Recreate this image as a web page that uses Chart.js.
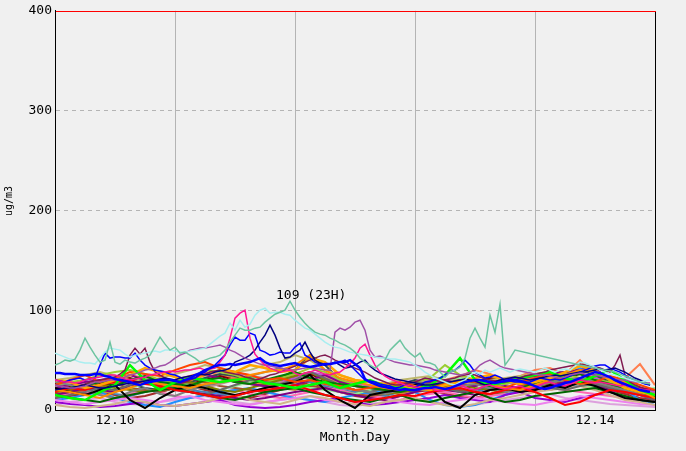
<!DOCTYPE html>
<html>
<head>
<meta charset="utf-8">
<script src="https://cdn.jsdelivr.net/npm/chart.js@4.4.1/dist/chart.umd.min.js"></script>
<style>
  body { margin: 0; background: #f0f0f0; overflow: hidden; }
  canvas { display: block; }
</style>
</head>
<body>
<canvas id="chart" width="686" height="451"></canvas>
<script>
// x axis is hours since 12.10 00H, one label per day at noon
const dayLabels = ["12.10", "12.11", "12.12", "12.13", "12.14"]
const yTicks = [0, 100, 200, 300, 400]

// hourly series (120 values, h0..h119)
const aquaValues = [
  45,47,50,49,51,60,72,63,55,48, 50,68,48,46,50,48,47,50,52,55,
  64,73,66,60,63,57,58,55,52,48, 50,52,53,55,60,68,75,82,80,80,
  82,83,88,92,96,98,100,109,100,93, 87,82,78,76,75,72,70,67,65,62,
  58,52,48,45,42,46,50,60,65,70, 62,57,53,57,48,47,45,38,33,38,
  40,43,52,72,82,72,63,95,78,106, 45,52,60,null,null,null,null,null,null,null,
  null,null,null,null,null,45,44,43,42,41, 40,39,38,36,34,32,30,28,27,26
]
const turquoiseValues = [
  57,55,53,51,50,48,47,47,46,52, 58,62,61,60,56,53,55,56,57,58,
  59,58,60,60,59,58,58,59,60,61, 62,66,70,74,77,87,80,90,83,86,
  95,100,102,97,98,98,96,95,90,86, 82,80,76,72,68,65,63,62,60,58,
  57,56,55,54,53,52,52,51,51,50, 49,48,45,42,38,35,32,30,28,26,
  25,28,30,35,38,36,40,38,40,42, 40,38,40,41,40,39,38,40,42,40,
  38,40,41,40,44,48,47,45,43,40, 38,36,35,33,32,30,29,28,29,30
]
const pinkValues = [
  30,29,28,28,27,28,30,31,32,33, 34,35,35,33,31,30,31,32,33,35,
  36,37,38,39,38,39,40,40,41,42, 40,41,42,48,55,72,92,97,100,72,
  56,50,45,42,40,38,39,40,37,35, 37,38,40,38,36,35,37,38,42,46,
  52,62,66,55,45,38,34,31,29,27, 25,24,23,22,21,22,20,19,20,22,
  24,25,23,21,20,22,24,25,23,22, 21,22,23,24,22,21,23,25,27,28,
  26,25,24,26,28,30,29,28,27,28, 27,26,25,24,25,23,22,21,20,20
]
const purpleValues = [
  25,24,23,22,22,23,24,26,28,28, 29,30,30,31,33,35,36,38,40,41,
  42,44,45,48,52,55,57,60,61,62, 62,63,64,65,63,60,58,55,52,50,
  48,46,45,44,43,42,41,40,40,41, 42,43,42,41,40,40,78,82,80,83,
  88,90,80,60,53,54,52,50,48,47, 46,45,45,44,43,42,40,39,38,37,
  36,35,36,38,40,45,48,50,47,44, 42,41,40,39,38,37,36,35,35,34,
  33,32,33,35,36,37,36,35,35,34, 33,32,31,30,30,29,28,28,27,27
]
const navyValues = [
  20,21,22,22,23,24,25,24,23,22, 22,23,24,25,26,27,28,28,29,30,
  30,31,32,31,30,32,33,34,35,36, 35,36,38,39,40,42,48,50,52,55,
  60,68,75,85,75,62,52,53,57,60, 68,58,50,47,45,46,48,45,42,43,
  45,48,50,44,40,37,35,33,31,30, 29,28,27,26,25,25,26,27,28,28,
  29,30,31,30,29,27,25,26,28,30, 31,32,33,32,31,30,31,32,33,34,
  35,34,35,36,37,38,38,39,40,41, 40,41,42,40,38,35,32,30,28,25
]
const blueThickValues = [
  37,37,36,36,36,35,35,35,36,36, 34,33,31,30,29,28,26,25,27,28,
  29,30,30,30,29,28,30,32,35,37, 40,42,44,45,45,46,45,46,47,48,
  50,52,48,46,45,44,45,46,47,45, 44,43,44,45,46,46,47,48,48,50,
  46,42,31,28,26,24,23,22,21,20, 21,20,20,21,22,22,23,22,21,22,
  24,26,28,29,30,30,29,28,27,28, 29,30,30,29,28,26,24,22,21,22,
  24,25,27,28,30,32,34,36,38,37, 35,33,30,28,26,24,22,20,19,18
]
const blueValues = [
  30,29,28,30,31,32,30,31,32,45, 57,52,53,53,52,52,57,50,45,42,
  40,39,38,36,35,33,30,31,32,36, 38,42,45,50,55,65,73,70,70,77,
  75,60,58,55,56,58,57,57,63,67, 55,52,48,46,45,46,47,48,50,45,
  40,35,30,29,28,26,25,24,22,23, 25,24,23,25,28,29,30,32,35,38,
  40,44,50,45,38,35,32,33,35,33, 30,29,28,28,27,28,30,32,31,30,
  31,30,32,34,36,38,40,42,44,45, 45,42,40,38,35,32,30,28,26,25
]
const maroonValues = [
  25,24,23,22,22,24,26,28,29,30, 31,32,33,36,40,55,62,56,62,48,
  38,35,32,30,29,28,28,30,32,35, 36,38,39,40,38,37,36,35,33,32,
  30,31,33,35,36,38,40,42,44,46, 48,50,52,54,55,53,50,48,46,44,
  42,40,38,35,32,30,28,26,25,25, 26,27,28,30,32,31,30,29,30,31,
  32,34,35,36,35,33,31,30,29,28, 28,29,30,32,34,35,36,37,38,40,
  41,42,43,44,45,46,45,44,43,42, 40,38,45,55,35,28,25,23,21,20
]

// 3-hourly series (41 values, h0..h120)
const limeValues = [15,12,10,18,25,45,30,20,28,32,30,28,30,32,27,25,22,25,28,22,26,30,24,22,20,25,35,52,30,25,28,32,35,38,32,28,34,40,30,20,15]
const orangeValues = [30,28,22,25,30,35,42,38,33,30,35,40,38,45,42,38,40,52,48,35,30,28,26,24,22,20,25,28,32,35,30,26,28,32,38,44,40,30,22,18,15]
const darkOrangeValues = [20,18,15,12,18,22,28,26,24,22,26,28,30,35,38,40,45,55,40,32,28,25,22,20,24,20,22,26,30,25,22,20,25,30,35,40,38,32,28,20,12]
const redValues = [18,22,20,25,28,30,26,24,20,18,15,12,14,18,20,22,25,20,15,12,8,10,12,15,14,18,20,22,18,16,20,22,18,12,5,8,15,20,18,15,12]
const orangeRedValues = [25,30,35,28,32,38,36,34,40,45,48,42,38,35,30,32,28,30,26,24,20,22,25,28,24,22,26,30,28,25,22,28,32,36,30,26,28,34,30,25,20]
const blackValues = [22,18,15,20,25,10,2,12,20,25,22,18,15,18,22,25,28,35,20,10,2,15,18,20,25,22,8,2,15,20,22,18,20,25,22,28,24,18,12,10,8]
const darkGreenValues = [15,12,10,8,12,15,18,20,22,18,15,12,10,14,18,20,22,18,15,12,10,8,12,15,10,8,12,15,18,12,8,10,14,16,18,20,22,18,14,10,8]
const greenValues = [20,22,25,28,24,30,34,28,26,24,30,32,28,26,30,34,38,32,28,26,24,22,20,18,22,24,26,30,28,24,20,22,26,30,34,36,30,26,22,18,14]
const grayValues = [28,25,20,15,12,18,22,16,14,20,24,28,30,34,38,42,38,30,26,22,20,18,16,20,22,18,20,24,26,22,18,20,24,28,30,32,28,24,20,16,12]
const dimGrayValues = [12,15,18,22,20,25,30,28,22,18,15,20,25,30,28,26,30,38,32,25,20,18,22,25,28,26,22,18,20,24,28,30,26,22,20,24,26,22,18,15,10]
const tanValues = [5,3,2,4,6,10,8,5,4,6,8,12,15,10,8,6,10,14,12,8,6,4,8,10,12,8,5,3,6,10,12,15,18,20,22,24,20,15,10,8,5]
const violetValues = [10,8,6,8,10,12,10,8,12,14,10,8,6,5,8,10,12,14,10,8,6,10,12,8,6,5,8,10,12,10,8,6,5,8,10,14,12,10,8,6,5]
const darkVioletValues = [8,6,5,3,4,6,8,5,4,6,8,10,5,3,2,3,5,8,10,12,8,5,6,8,10,12,15,12,10,8,15,18,12,10,8,12,15,18,20,15,10]
const purpleBgValues = [15,18,22,20,18,25,28,24,20,18,16,14,12,10,12,15,18,20,22,18,15,12,10,14,18,22,20,18,15,20,24,22,20,24,28,30,25,20,18,15,12]
const darkMagentaValues = [22,25,28,30,32,35,30,28,25,30,35,32,28,26,24,22,25,30,35,28,24,22,20,22,25,28,30,26,24,28,30,32,34,36,38,40,42,30,25,22,20]
const oliveValues = [18,20,22,25,22,20,18,22,26,28,24,20,18,22,26,30,34,38,30,24,20,18,16,18,20,22,24,26,22,20,18,22,26,28,30,32,28,24,20,18,15]
const yellowGreenValues = [25,28,30,35,38,40,36,30,28,32,40,38,35,30,28,32,36,42,38,30,25,22,20,24,28,32,45,35,30,28,26,30,34,38,36,32,30,28,25,22,20]
const lightGreenValues = [20,22,24,20,18,22,26,30,28,25,22,20,24,28,30,26,24,22,20,18,16,20,22,24,26,28,30,32,28,24,22,20,24,28,30,26,22,20,18,20,22]
const khakiValues = [30,32,35,38,34,30,28,32,36,40,45,42,38,40,45,48,55,50,40,35,30,28,26,30,32,34,30,28,26,30,32,34,36,38,34,30,28,26,24,22,20]
const rosyBrownValues = [24,26,22,20,24,28,32,30,26,24,22,26,30,34,32,28,26,30,34,28,24,22,20,24,28,30,26,22,20,24,26,28,30,32,28,26,24,22,20,18,16]
const siennaValues = [16,18,20,24,26,22,20,18,22,26,28,24,22,20,18,22,26,24,22,18,16,14,16,18,20,22,24,20,18,16,18,22,24,26,28,30,26,22,18,16,14]
const slateValues = [20,22,25,28,30,26,22,20,24,28,32,36,34,30,28,32,40,55,45,30,24,22,20,25,30,26,22,20,24,28,30,32,34,36,38,40,35,28,22,18,16]
const dodgerValues = [10,12,15,18,12,8,5,3,8,12,15,18,20,22,18,15,12,10,8,12,15,18,20,22,18,10,5,3,5,10,15,20,25,30,35,42,38,30,20,10,5]
const hotPinkValues = [14,16,18,15,12,16,20,18,14,12,15,18,20,16,14,12,15,18,22,20,16,14,12,10,14,16,18,15,12,14,16,18,20,22,20,18,16,14,12,10,8]
const plumValues = [5,8,10,12,8,6,5,8,10,12,14,10,8,6,8,10,12,10,8,5,4,6,8,10,12,8,6,4,5,8,10,12,14,16,12,10,8,6,5,4,3]
const orchidValues = [30,28,25,22,26,30,34,30,28,32,36,40,38,34,30,28,32,38,35,30,26,24,22,26,30,28,25,22,20,24,28,32,30,28,26,30,32,28,24,20,18]
const peruValues = [22,20,18,16,20,24,28,26,22,20,24,28,32,30,26,22,20,24,28,30,26,22,18,16,20,24,28,32,30,26,22,20,18,22,26,30,34,30,26,22,18]
const steelValues = [18,20,22,20,16,14,18,22,24,20,18,16,14,18,22,26,30,28,24,20,18,16,14,18,22,26,24,20,18,22,26,30,28,24,22,26,30,26,20,16,14]
const darkRedValues = [26,24,22,26,30,32,28,24,22,26,30,34,30,26,24,28,32,36,30,24,20,18,22,26,24,22,20,24,28,32,30,26,24,28,32,36,32,26,22,18,16]
const coralValues = [20,22,25,28,30,35,32,28,30,34,38,35,32,28,26,30,34,38,32,28,24,22,20,24,26,28,30,34,40,36,30,34,40,42,36,50,34,30,32,46,25]
const brownValues = [12,14,16,18,15,12,14,18,22,24,20,16,14,12,16,20,24,28,22,18,14,12,10,14,18,20,16,14,12,16,20,24,22,20,24,28,26,20,16,12,10]

function series(label, color, values, step, width) {
  return {
    label: label,
    data: values.map((v, i) => ({ x: i * step, y: v })),
    borderColor: color,
    borderWidth: width || 2,
    pointRadius: 0,
    tension: 0,
    spanGaps: true,
    fill: false
  }
}

// first dataset is drawn on top
const datasets = [
  series("blue2", "#0000ff", blueThickValues, 1, 2.5),
  series("aqua", "#6cc4a0", aquaValues, 1, 1.5),
  series("turquoise", "#a8eef0", turquoiseValues, 1, 1.5),
  series("pink", "#ff1493", pinkValues, 1, 1.5),
  series("purple", "#a050a8", purpleValues, 1, 1.5),
  series("navy", "#000080", navyValues, 1, 1.5),
  series("blue", "#0000ff", blueValues, 1, 1.5),
  series("maroon", "#801a50", maroonValues, 1, 1.5),
  series("lime", "#00ff00", limeValues, 3, 2.5),
  series("orange", "#ffa500", orangeValues, 3, 2.5),
  series("darkorange", "#ff8c00", darkOrangeValues, 3),
  series("red", "#ff0000", redValues, 3),
  series("orangered", "#ff4500", orangeRedValues, 3),
  series("black", "#000000", blackValues, 3),
  series("darkgreen", "#006400", darkGreenValues, 3),
  series("green", "#008000", greenValues, 3),
  series("gray", "#808080", grayValues, 3),
  series("dimgray", "#696969", dimGrayValues, 3),
  series("tan", "#d2b48c", tanValues, 3),
  series("violet", "#ee82ee", violetValues, 3),
  series("darkviolet", "#9400d3", darkVioletValues, 3),
  series("purple2", "#800080", purpleBgValues, 3),
  series("darkmagenta", "#8b008b", darkMagentaValues, 3),
  series("olive", "#808000", oliveValues, 3),
  series("yellowgreen", "#9acd32", yellowGreenValues, 3),
  series("lightgreen", "#90ee90", lightGreenValues, 3),
  series("khaki", "#bdb76b", khakiValues, 3),
  series("rosybrown", "#bc8f8f", rosyBrownValues, 3),
  series("sienna", "#a0522d", siennaValues, 3),
  series("slate", "#2f4f4f", slateValues, 3),
  series("dodger", "#1e90ff", dodgerValues, 3),
  series("hotpink", "#ff69b4", hotPinkValues, 3),
  series("plum", "#dda0dd", plumValues, 3),
  series("orchid", "#ba55d3", orchidValues, 3),
  series("peru", "#cd853f", peruValues, 3),
  series("steel", "#4682b4", steelValues, 3),
  series("darkred", "#800000", darkRedValues, 3),
  series("coral", "#ff7f50", coralValues, 3),
  series("brown", "#a52a2a", brownValues, 3)
]

const frame = {
  id: "frame",
  afterDraw(chart) {
    const { ctx, chartArea: a, scales } = chart
    const left = Math.round(a.left)
    const top = Math.round(a.top)
    const right = Math.round(a.right)
    const bottom = Math.round(a.bottom)
    ctx.save()
    ctx.fillStyle = "#000000"
    ctx.fillRect(right, top, 1, bottom - top + 1)
    ctx.fillStyle = "#ff0000"
    ctx.fillRect(left + 1, top, right - left, 1)

    // max label on the aqua series
    let peak = 0
    aquaValues.forEach((v, i) => { if (v !== null && v > aquaValues[peak]) peak = i })
    const px = scales.x.getPixelForValue(peak)
    const py = scales.y.getPixelForValue(aquaValues[peak])
    ctx.fillStyle = "#000000"
    ctx.font = "13px 'DejaVu Sans Mono'"
    ctx.textAlign = "left"
    ctx.textBaseline = "alphabetic"
    ctx.fillText(`${aquaValues[peak]} (${peak % 24}H)`, px - 14, py - 2)

    // axis titles
    ctx.textAlign = "center"
    ctx.textBaseline = "middle"
    ctx.fillText("Month.Day", (a.left + a.right) / 2, 438)
    ctx.translate(9, 201)
    ctx.rotate(-Math.PI / 2)
    ctx.font = "10px 'DejaVu Sans Mono'"
    ctx.fillText("ug/m3", 0, 0)
    ctx.restore()
  }
}

Chart.defaults.font.family = "'DejaVu Sans Mono', monospace"
Chart.defaults.font.size = 13
Chart.defaults.color = "#000000"

new Chart(document.getElementById("chart"), {
  type: "line",
  data: { datasets: datasets },
  plugins: [frame],
  options: {
    responsive: false,
    animation: false,
    devicePixelRatio: 1,
    layout: { padding: { top: 10, right: 31, left: 0, bottom: 0 } },
    plugins: { legend: { display: false }, tooltip: { enabled: false } },
    scales: {
      x: {
        type: "linear",
        min: 0,
        max: 120,
        afterFit(scale) { scale.height = 41 },
        ticks: {
          stepSize: 12,
          autoSkip: false,
          maxRotation: 0,
          padding: 3,
          callback: (v) => (v % 24 === 12 ? dayLabels[(v - 12) / 24] : "")
        },
        grid: {
          drawTicks: false,
          color: (c) => (c.tick && c.tick.value % 24 === 0 && c.tick.value > 0 && c.tick.value < 120 ? "#b4b4b4" : "transparent")
        },
        border: { color: "#000000", width: 1 }
      },
      y: {
        min: 0,
        max: 400,
        afterFit(scale) { scale.width = 55 },
        afterBuildTicks(scale) { scale.ticks = yTicks.map(v => ({ value: v })) },
        ticks: { padding: 3 },
        grid: {
          drawTicks: false,
          color: (c) => (c.tick && c.tick.value > 0 && c.tick.value < 400 ? "#b4b4b4" : "transparent")
        },
        border: { color: "#000000", width: 1, dash: [4, 4] }
      }
    }
  }
})
</script>
</body>
</html>
